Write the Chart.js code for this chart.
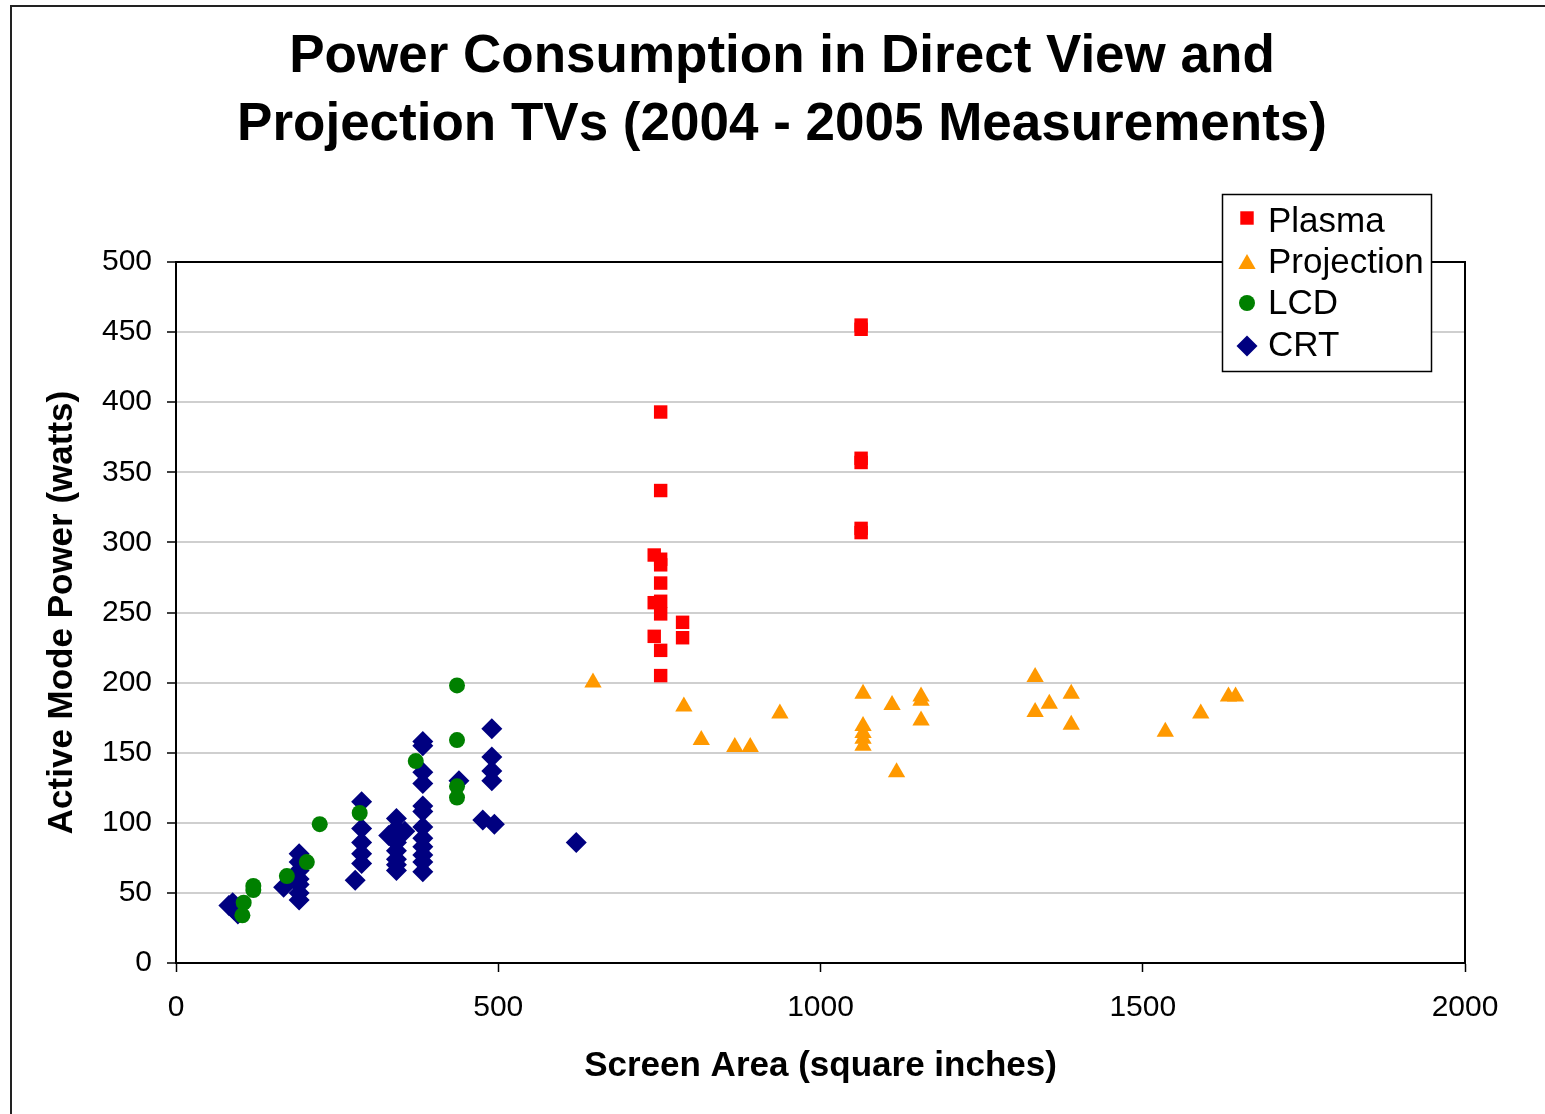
<!DOCTYPE html>
<html>
<head>
<meta charset="utf-8">
<script src="https://cdn.jsdelivr.net/npm/chart.js@4/dist/chart.umd.min.js"></script>
<style>
  html, body { margin: 0; padding: 0; background: #fff; }
  #wrap { width: 1545px; height: 1114px; position: relative; }
</style>
</head>
<body>
<div id="wrap"><canvas id="chart" width="1545" height="1114"></canvas></div>
<script>
// Screen area (sq in) and active power (W)
const plasmaArea  = [1063, 1063, 1063, 1063, 1063, 1063, 752, 752, 742, 752, 752, 752, 742, 752, 752, 786, 786, 742, 752, 752];
const plasmaPower = [455, 452, 360, 357, 310, 307, 393, 337, 291, 288, 284, 271, 257, 258, 249, 243, 232, 233, 223, 205];

const projArea  = [647, 788, 815, 867, 891, 937, 1066, 1066, 1066, 1066, 1066, 1111, 1156, 1156, 1156, 1118, 1333, 1333, 1355, 1389, 1389, 1535, 1590, 1633, 1644];
const projPower = [200, 183, 159, 154, 154, 178, 192, 169, 164, 160, 155, 184, 190, 187, 173, 136, 204, 179, 185, 192, 170, 165, 178, 190, 190];

const lcdArea  = [223, 203, 172, 120, 120, 105, 103, 285, 436, 436, 372, 436, 436];
const lcdPower = [99, 72, 62, 55, 52, 43, 34, 107, 198, 159, 144, 126, 118];

const crtArea  = [82, 88, 90, 96,
                  191, 191, 191, 191, 191, 191, 191, 167,
                  288, 288, 288, 288, 288, 278,
                  342, 342, 342, 342, 342, 342, 342, 342, 330, 355,
                  383, 383, 383, 383, 383, 383, 383, 383, 383, 383, 383, 383,
                  439, 476, 494, 490, 490, 490, 490, 621];
const crtPower = [41, 43, 38, 35,
                  78, 72, 66, 60, 56, 50, 45, 54,
                  115, 96, 86, 78, 71, 59,
                  103, 96, 91, 86, 80, 74, 70, 66, 91, 94,
                  158, 155, 136, 128, 112, 108, 97, 89, 83, 77, 72, 65,
                  130, 102, 99, 167, 147, 137, 130, 86];

const titleLines = ['Power Consumption in Direct View and', 'Projection TVs (2004 - 2005 Measurements)'];

const toPoints = (xs, ys) => xs.map((x, i) => ({ x: x, y: ys[i] }));

const series = [
    { label: 'Plasma',     data: toPoints(plasmaArea, plasmaPower), color: '#ff0000', style: 'rect',     radius: 9.5 },
    { label: 'Projection', data: toPoints(projArea, projPower),     color: '#ff9900', style: 'triangle', radius: 10 },
    { label: 'LCD',        data: toPoints(lcdArea, lcdPower),       color: '#008000', style: 'circle',   radius: 8 },
    { label: 'CRT',        data: toPoints(crtArea, crtPower),       color: '#000080', style: 'rectRot',  radius: 10.5 }
];

const FONT = '"Liberation Sans", Arial, sans-serif';

// title, frame, plot border and the boxed legend
const decorations = {
    id: 'decorations',
    beforeDraw(chart) {
        const ctx = chart.ctx;
        ctx.save();
        ctx.strokeStyle = '#222';
        ctx.lineWidth = 2;
        ctx.beginPath();
        ctx.moveTo(11, 1114);
        ctx.lineTo(11, 6);
        ctx.lineTo(1545, 6);
        ctx.stroke();

        ctx.fillStyle = '#000';
        ctx.font = 'bold 53px ' + FONT;
        ctx.textAlign = 'center';
        ctx.textBaseline = 'alphabetic';
        ctx.fillText(titleLines[0], 782, 72);
        ctx.fillText(titleLines[1], 782, 140);
        ctx.restore();
    },
    afterDraw(chart) {
        const ctx = chart.ctx;
        const a = chart.chartArea;
        ctx.save();
        ctx.strokeStyle = '#000';
        ctx.lineWidth = 2;
        ctx.strokeRect(a.left, a.top, a.right - a.left, a.bottom - a.top);

        // legend
        ctx.fillStyle = '#fff';
        ctx.fillRect(1222, 194, 209, 177);
        ctx.lineWidth = 1.5;
        ctx.strokeStyle = '#000';
        ctx.strokeRect(1222.5, 194.5, 209, 177);

        const rows = [
            { y: 218, base: 232 },
            { y: 264, base: 273 },
            { y: 303, base: 314 },
            { y: 346, base: 356 }
        ];
        series.forEach((s, i) => {
            ctx.fillStyle = s.color;
            ctx.strokeStyle = s.color;
            Chart.helpers.drawPoint(ctx, {
                pointStyle: s.style,
                radius: s.radius,
                rotation: 0,
                borderWidth: 0
            }, 1247, rows[i].y);
            ctx.fillStyle = '#000';
            ctx.font = '35px ' + FONT;
            ctx.textAlign = 'left';
            ctx.textBaseline = 'alphabetic';
            ctx.fillText(s.label, 1268, rows[i].base);
        });
        ctx.restore();
    }
};

new Chart(document.getElementById('chart'), {
    type: 'scatter',
    data: {
        datasets: series.map(s => ({
            label: s.label,
            data: s.data,
            pointStyle: s.style,
            pointRadius: s.radius,
            pointHoverRadius: s.radius,
            backgroundColor: s.color,
            borderColor: s.color,
            borderWidth: 0
        }))
    },
    options: {
        responsive: false,
        animation: false,
        layout: { padding: { top: 262, right: 80, bottom: 27, left: 41 } },
        plugins: {
            legend: { display: false },
            title: { display: false },
            tooltip: { enabled: false }
        },
        scales: {
            x: {
                type: 'linear',
                min: 0,
                max: 2000,
                afterFit: scale => { scale.height = 124; },
                ticks: {
                    stepSize: 500,
                    color: '#000',
                    padding: 18,
                    font: { family: FONT, size: 30 },
                    callback: v => String(v)
                },
                grid: {
                    drawOnChartArea: false,
                    drawTicks: true,
                    tickLength: 9,
                    tickColor: '#000',
                    tickWidth: 1.5
                },
                border: { color: '#000', width: 2 },
                title: {
                    display: true,
                    text: 'Screen Area (square inches)',
                    color: '#000',
                    padding: 0,
                    font: { family: FONT, size: 35, weight: 'bold' }
                }
            },
            y: {
                type: 'linear',
                min: 0,
                max: 500,
                afterFit: scale => { scale.width = 135; },
                ticks: {
                    stepSize: 50,
                    color: '#000',
                    padding: 15,
                    font: { family: FONT, size: 30 },
                    callback: v => String(v)
                },
                grid: {
                    color: '#cfcfcf',
                    lineWidth: 2,
                    drawTicks: true,
                    tickLength: 9,
                    tickColor: '#000',
                    tickWidth: 1.5
                },
                border: { color: '#000', width: 2 },
                title: {
                    display: true,
                    text: 'Active Mode Power (watts)',
                    color: '#000',
                    padding: 0,
                    font: { family: FONT, size: 35, weight: 'bold' }
                }
            }
        }
    },
    plugins: [decorations]
});
</script>
</body>
</html>
